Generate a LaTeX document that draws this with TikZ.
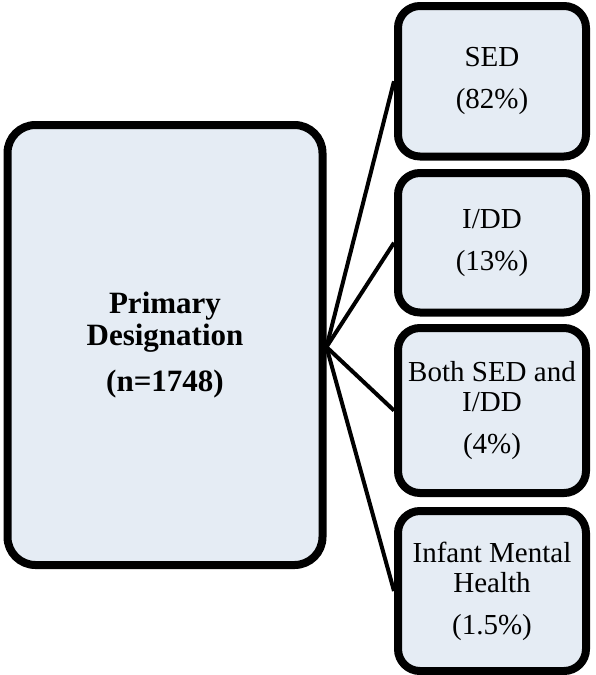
\documentclass[tikz,border=0pt]{standalone}
\usepackage{fontspec}
\setmainfont{Liberation Serif}
\definecolor{boxfill}{RGB}{229,236,244}
\begin{document}
\begin{tikzpicture}[x=1pt,y=-1pt,
  box/.style={draw=black, line width=8pt, fill=boxfill, rounded corners=22pt,
    align=center, inner sep=0pt, minimum width=188pt, font=\fontsize{29}{30}\selectfont},
  bigbox/.style={draw=black, line width=8pt, fill=boxfill, rounded corners=28pt,
    align=center, inner sep=0pt, minimum width=315pt, minimum height=440pt,
    font=\fontsize{31}{32}\selectfont\bfseries},
  conn/.style={draw=black, line width=4pt}]
\useasboundingbox (0,0) rectangle (596,675);
\node[bigbox] (main) at (165,345) {Primary\\Designation\\[14pt](n=1748)};
\node[box, minimum height=150.5pt] (sed) at (492,81.25) {SED\\[12pt](82\%)};
\node[box, minimum height=139.5pt] (idd) at (492,242.75) {I/DD\\[12pt](13\%)};
\node[box, minimum height=165pt] (both) at (492,410.5) {Both SED and\\I/DD\\[12pt](4\%)};
\node[box, minimum height=160pt] (imh) at (492,591) {Infant Mental\\Health\\[12pt](1.5\%)};
\coordinate (hub) at ([yshift=-2pt]main.east);
\draw[conn] (hub) -- (sed.west);
\draw[conn] (hub) -- (idd.west);
\draw[conn] (hub) -- (both.west);
\draw[conn] (hub) -- (imh.west);
\end{tikzpicture}
\end{document}
